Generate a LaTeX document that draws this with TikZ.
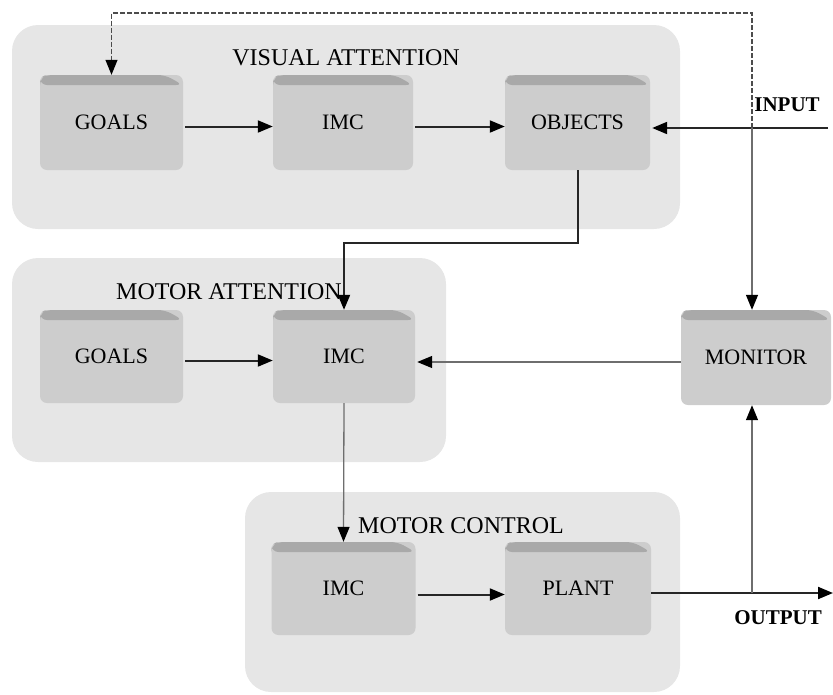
\documentclass[tikz,border=0pt]{standalone}
\usepackage{fontspec}
\setmainfont{Liberation Serif}
\usetikzlibrary{arrows.meta,calc}
\definecolor{grpfill}{HTML}{E6E6E6}
\definecolor{boxfill}{HTML}{CDCDCD}
\definecolor{bevelfill}{HTML}{A9A9A9}
\definecolor{thinline}{HTML}{6E6E6E}
\tikzset{
  group/.style={fill=grpfill, rounded corners=26pt},
  grouptitle/.style={font=\fontsize{24}{28}\selectfont, text=black, inner sep=0pt},
  blk/.style={fill=boxfill, rounded corners=7pt, inner sep=0pt,
    font=\fontsize{22}{26}\selectfont,
    path picture={
      \fill[bevelfill]
        ($(path picture bounding box.north west)+(0pt,-10pt)$) --
        ($(path picture bounding box.north west)+(0pt,-3pt)$) --
        ($(path picture bounding box.north west)+(6pt,0pt)$) --
        ($(path picture bounding box.north east)+(-18pt,0pt)$) --
        ($(path picture bounding box.north east)+(0pt,-10pt)$) -- cycle;
    }},
  ioLabel/.style={font=\bfseries\fontsize{21}{24}\selectfont, inner sep=0pt},
  tip/.style={-{Triangle[length=15pt,width=12pt,color=black]}},
  heavy/.style={tip, line width=2pt, draw=black!85},
  light/.style={tip, line width=1.3pt, draw=thinline},
  feedback/.style={tip, line width=1.1pt, draw=black!70, dash pattern=on 5pt off 2pt}
}
\begin{document}
\begin{tikzpicture}[x=1pt, y=-1pt]
  \useasboundingbox (0,0) rectangle (833,694);

  % grouping panels
  \fill[group] (12,25) rectangle (680,229);
  \fill[group] (12,258) rectangle (446,462);
  \fill[group] (245,492) rectangle (680,692);

  \node[grouptitle] (tvis) at (346,58) {VISUAL ATTENTION};
  \node[grouptitle] (tmat) at (229,292) {MOTOR ATTENTION};
  \node[grouptitle] (tmct) at (461,526) {MOTOR CONTROL};

  % blocks
  \node[blk, minimum width=143pt, minimum height=95pt] (vgoals) at (111.5,122.5) {GOALS};
  \node[blk, minimum width=140pt, minimum height=95pt] (vimc) at (343,122.5) {IMC};
  \node[blk, minimum width=145pt, minimum height=95pt] (vobj) at (577.5,122.5) {OBJECTS};

  \node[blk, minimum width=143pt, minimum height=93pt] (mgoals) at (111.5,356.5) {GOALS};
  \node[blk, minimum width=142pt, minimum height=93pt] (mimc) at (344,356.5) {IMC};
  \node[blk, minimum width=150pt, minimum height=95pt] (monitor) at (756,357.5) {MONITOR};

  \node[blk, minimum width=144pt, minimum height=93pt] (cimc) at (343.5,588.5) {IMC};
  \node[blk, minimum width=146pt, minimum height=93pt] (plant) at (578,588.5) {PLANT};

  % free ends and junctions
  \coordinate (inp) at (828,128);
  \coordinate (jin) at (752,128);
  \coordinate (ftop) at (752,13);
  \coordinate (bend) at (577.5,243);
  \coordinate (outp) at (833,593);
  \coordinate (jout) at (752,593);

  \node[ioLabel] (linput) at (787,105) {INPUT};
  \node[ioLabel] (loutput) at (778,618) {OUTPUT};

  % visual attention chain
  \draw[heavy, shorten <=2pt] ([yshift=-4pt]vgoals.east) -- ([yshift=-4pt]vimc.west);
  \draw[heavy, shorten <=2pt] ([yshift=-4pt]vimc.east) -- ([yshift=-4pt]vobj.west);
  \draw[heavy, shorten >=2pt] (inp) -- (vobj.east |- inp);

  % input taps to the monitor and the dashed feedback to the goals
  \draw[light] (jin) -- (jin |- monitor.north);
  \draw[feedback] (jin) -- (ftop) -| (vgoals.north);

  % objects down to motor attention
  \draw[heavy] (vobj.south) -- (bend) -| (mimc.north);

  % motor attention chain
  \draw[heavy, shorten <=2pt] ([yshift=-4pt]mgoals.east) -- ([yshift=-4pt]mimc.west);
  \draw[light, shorten >=2pt] (monitor.west |- 0,362) -- (mimc.east |- 0,362);
  \draw[light] (mimc.south) -- (cimc.north);

  % motor control chain
  \draw[heavy, shorten <=2pt] ([yshift=-6pt]cimc.east) -- ([yshift=-6pt]plant.west);
  \draw[heavy] (plant.east |- outp) -- (outp);
  \draw[light] (jout) -- (jout |- monitor.south);
\end{tikzpicture}
\end{document}
